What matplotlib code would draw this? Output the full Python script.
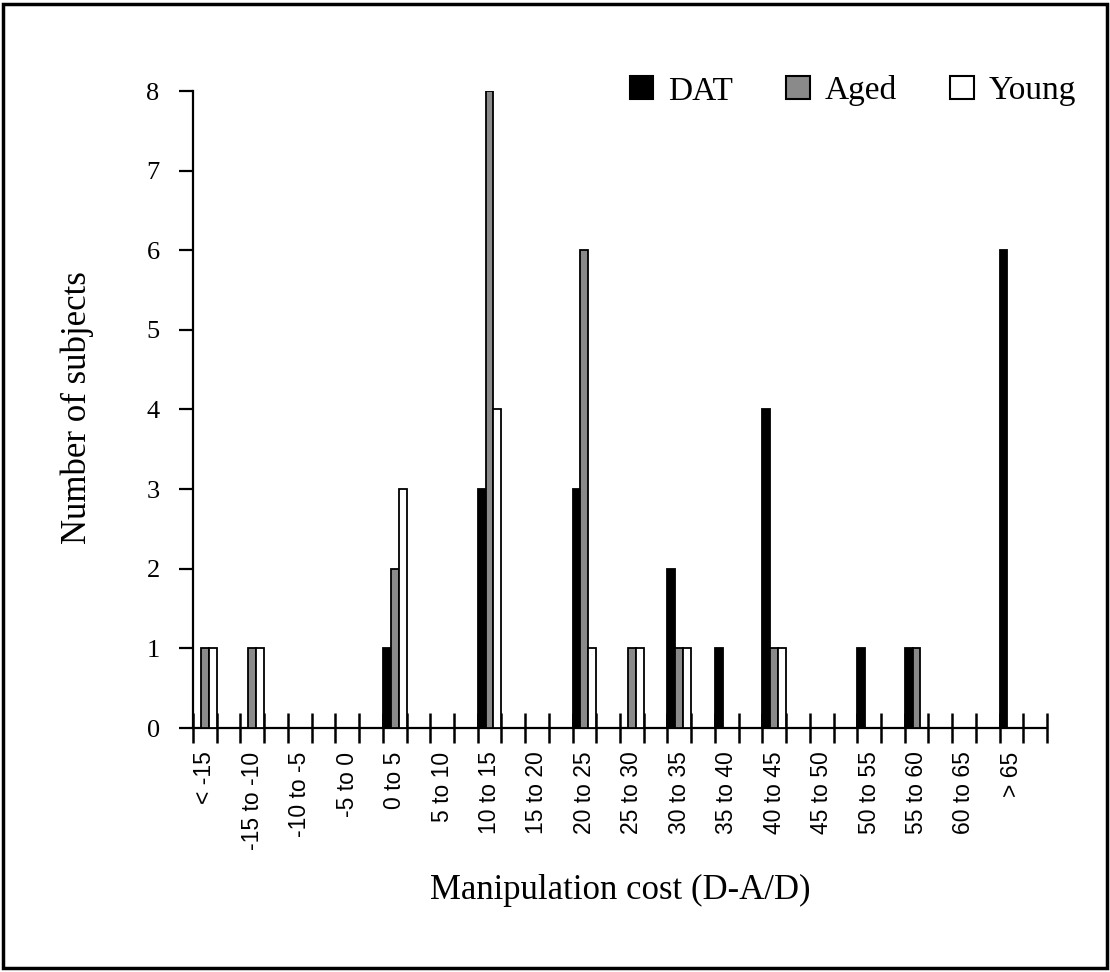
import matplotlib
matplotlib.use("Agg")
import matplotlib.pyplot as plt
from matplotlib.patches import Patch, Rectangle
import numpy as np

# Histogram bins of manipulation cost
categories = ["< -15", "-15 to -10", "-10 to -5", "-5 to 0", "0 to 5", "5 to 10",
              "10 to 15", "15 to 20", "20 to 25", "25 to 30", "30 to 35", "35 to 40",
              "40 to 45", "45 to 50", "50 to 55", "55 to 60", "60 to 65", "> 65"]

# Number of subjects per bin for each group
dat   = [0, 0, 0, 0, 1, 0, 3, 0, 3, 0, 2, 1, 4, 0, 1, 1, 0, 6]
aged  = [1, 1, 0, 0, 2, 0, 8, 0, 6, 1, 1, 0, 1, 0, 0, 1, 0, 0]
young = [1, 1, 0, 0, 3, 0, 4, 0, 1, 1, 1, 0, 1, 0, 0, 0, 0, 0]

y_ticks = [0, 1, 2, 3, 4, 5, 6, 7, 8]

serif = ["Liberation Serif", "DejaVu Serif"]
sans = ["Liberation Sans", "DejaVu Sans"]

fig = plt.figure(figsize=(11.10, 9.72), dpi=100)
ax = fig.add_axes([193 / 1110, 1 - 728 / 972, (1047 - 193) / 1110, (728 - 91) / 972])

n = len(categories)
centers = np.arange(n) * 2 + 0.5
w = 1 / 3
series = [(dat, "black", "DAT"), (aged, "#8a8a8a", "Aged"), (young, "white", "Young")]
for k, (vals, color, name) in enumerate(series):
    ax.bar(centers + (k - 1) * w, vals, width=w, color=color,
           edgecolor="black", linewidth=1.3, zorder=3)

ax.set_xlim(0, 2 * n)
ax.set_ylim(0, 8)

# Spines
for s in ["top", "right"]:
    ax.spines[s].set_visible(False)
ax.spines["left"].set_linewidth(1.6)
ax.spines["bottom"].set_linewidth(1.6)

# Major x ticks mark half-bin boundaries; category labels sit on minor ticks
ax.set_xticks(np.arange(0, 2 * n + 1))
ax.set_xticklabels([])
ax.tick_params(axis="x", which="major", direction="inout", length=22, width=1.8)
ax.set_xticks(centers, minor=True)
ax.set_xticklabels(categories, minor=True)
ax.tick_params(axis="x", which="minor", length=0, pad=17, labelsize=16.5,
               labelrotation=90)
for lab in ax.get_xticklabels(minor=True):
    lab.set_family(sans)
    lab.set_va("top")
    lab.set_ha("center")

ax.set_yticks(y_ticks)
ax.set_yticklabels([str(v) for v in y_ticks])
ax.tick_params(axis="y", direction="out", length=10, width=1.6, pad=14, labelsize=19)
for lab in ax.get_yticklabels():
    lab.set_family(serif)

fig.text(77 / 1110, 1 - 408 / 972, "Number of subjects", rotation=90,
         ha="center", va="center", family=serif, fontsize=25)
fig.text(620 / 1110, 1 - 890 / 972, "Manipulation cost (D-A/D)",
         ha="center", va="center", family=serif, fontsize=25)

handles = [Patch(facecolor=c, edgecolor="black", linewidth=1.5, label=name)
           for _, c, name in series]
leg = fig.legend(handles=handles, loc="center", ncol=3, frameon=False,
                 bbox_to_anchor=(853 / 1110, 1 - 91 / 972),
                 prop={"family": serif, "size": 24},
                 handlelength=0.7, handleheight=0.7, handletextpad=0.45,
                 columnspacing=1.6, borderpad=0)

# Frame around the whole figure
fig.patches.append(Rectangle((0.003, 0.004), 0.994, 0.992, transform=fig.transFigure,
                             fill=False, edgecolor="black", linewidth=2.5))

fig.savefig("out.png", dpi=100, facecolor="white")
